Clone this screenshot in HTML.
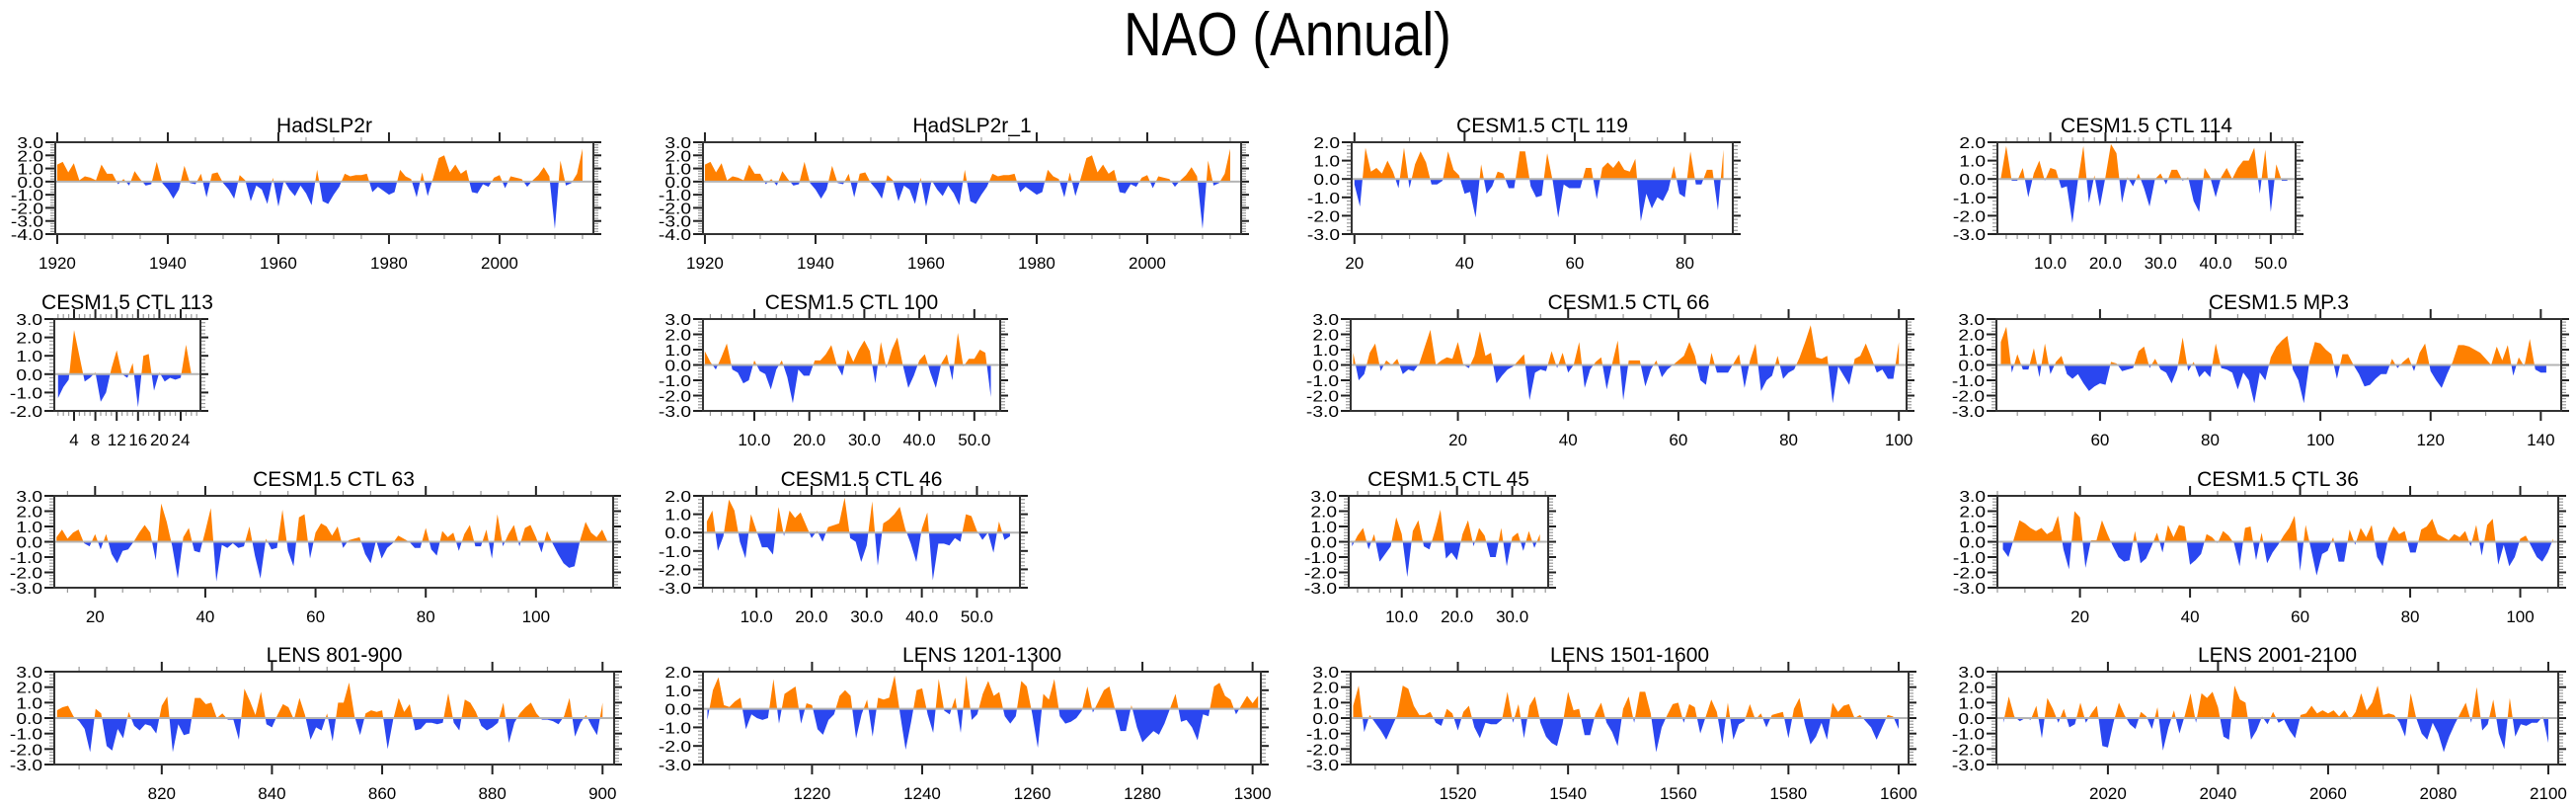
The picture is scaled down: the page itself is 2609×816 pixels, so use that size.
<!DOCTYPE html>
<html>
<head>
<meta charset="utf-8">
<style>
  html,body{margin:0;padding:0;background:#fff;}
  svg{display:block;}
  text{font-family:"Liberation Sans",Arial,sans-serif;fill:#000;}
</style>
</head>
<body>
<svg id="chart" xmlns="http://www.w3.org/2000/svg" width="2609" height="816" viewBox="0 0 2609 816">
  <rect x="0" y="0" width="2609" height="816" fill="#fff"/>
  <text transform="translate(1304,56) scale(0.86,1)" text-anchor="middle" font-size="62">NAO (Annual)</text>
</svg>
<script>
// ---------- data ----------
const hadslp2rStart = 1920;
const hadslp2rValues = [1.3,1.5,0.7,1.4,0.1,0.4,0.3,0.1,1.3,0.6,0.6,-0.2,0.2,-0.3,0.8,0.2,-0.3,-0.2,1.5,-0.1,
  -0.6,-1.3,-0.6,1.2,-0.1,-0.2,0.6,-1.2,0.6,0.7,-0.1,-0.6,-1.3,0.5,0.1,-1.5,-0.3,-0.6,-1.7,0.3,
  -1.9,0.1,-0.6,-1.1,-0.3,-0.9,-1.8,0.9,-1.5,-1.7,-1.0,-0.4,0.6,0.4,0.5,0.5,0.6,-0.8,-0.4,-0.7,
  -1.0,-0.8,0.9,0.4,0.2,-1.2,0.7,-1.1,0.3,1.8,2.0,0.7,1.3,0.6,0.9,-0.8,-0.9,-0.2,-0.4,0.3,
  0.5,-0.5,0.4,0.3,0.2,-0.4,0.1,0.5,1.1,0.4,-3.6,1.6,-0.3,-0.1,0.6,2.5];
const hadslp2r1Start = 1920;
const hadslp2r1Values = hadslp2rValues.slice();
const ctl119Start = 20;
const ctl119Values = [-0.3,-1.5,1.7,0.4,0.6,0.3,1.0,0.4,-0.5,1.7,-0.5,0.8,1.5,0.9,-0.3,-0.3,-0.1,1.5,0.5,0.2,
  -0.8,-0.7,-2.1,0.8,-0.8,-0.4,0.4,0.3,-0.5,-0.5,1.5,1.5,-0.4,-1.0,-0.9,1.4,-0.1,-2.1,-0.3,-0.5,
  -0.5,-0.5,0.6,0.6,-1.1,0.6,0.9,0.6,1.0,0.5,0.4,1.1,-2.3,-0.8,-1.6,-1.0,-1.2,-0.6,0.7,-0.8,
  -1.0,1.5,-0.3,-0.3,0.5,0.5,-1.7,1.6];
const ctl114Start = 1;
const ctl114Values = [0.0,1.8,-0.1,-0.1,0.6,-1.0,0.3,1.0,-0.1,0.6,0.5,-0.5,-0.4,-2.4,-0.1,1.8,-1.3,0.2,-1.5,0.1,
  1.9,1.4,-1.3,0.1,-0.4,0.3,-0.5,-1.5,0.0,0.3,-0.3,0.5,0.5,-0.1,0.1,-1.2,-1.8,0.6,0.1,-1.0,
  0.1,0.6,0.0,0.6,1.0,1.0,1.7,-0.8,1.6,-1.8,0.8,-0.1,-0.1];
const ctl113Start = 1;
const ctl113Values = [-1.3,-0.7,-0.3,2.4,1.0,-0.4,-0.2,0.1,-1.5,-1.0,0.3,1.3,0.0,-0.2,0.6,-1.8,1.0,1.1,-0.9,0.1,
  -0.4,-0.2,-0.3,-0.2,1.6,0.0];
const ctl100Start = 1;
const ctl100Values = [0.9,0.2,-0.3,0.5,1.4,-0.3,-0.5,-1.2,-1.0,0.3,-0.4,-0.6,-1.6,-0.3,0.3,-0.8,-2.5,-0.3,-0.7,-0.7,
  0.3,0.3,0.7,1.3,0.0,-0.7,1.0,0.2,1.0,1.6,0.9,-1.2,1.5,-0.2,1.0,1.8,0.0,-1.5,-0.7,0.3,
  0.7,-0.5,-1.5,0.1,0.7,-1.0,2.1,-0.1,0.4,0.4,1.0,0.8,-2.1];
const ctl66Start = 1;
const ctl66Values = [0.8,-1.0,-0.6,0.8,1.4,-0.4,0.3,0.0,0.4,-0.6,-0.3,-0.4,0.1,1.2,2.3,0.0,0.3,0.5,0.4,1.5,
  0.0,-0.2,0.6,2.2,0.6,0.8,-1.2,-0.7,-0.3,-0.1,0.3,0.7,-2.3,-0.5,-0.3,-0.4,0.9,-0.2,0.8,-0.5,
  0.0,1.5,-1.5,-0.3,0.2,0.5,-1.6,0.1,1.6,-2.3,0.3,0.3,0.3,-1.4,-0.3,0.3,-0.8,-0.3,0.0,0.3,
  0.6,1.5,0.6,-1.0,-1.3,0.8,-0.5,-0.5,-0.5,0.1,0.7,-1.5,0.3,1.4,-1.7,-1.0,-0.7,0.6,-0.9,-0.5,
  -0.3,0.5,1.5,2.6,0.5,0.4,0.6,-2.5,-0.1,-0.7,-1.3,0.4,0.6,1.4,0.5,-0.5,-0.3,-0.9,-0.9,1.5];
const mp3Start = 42;
const mp3Values = [1.5,2.5,-0.5,0.7,-0.3,-0.3,1.1,-0.8,1.4,-0.6,0.2,0.6,-0.6,-0.9,-0.6,-1.2,-1.7,-1.4,-1.2,-1.3,
  0.2,0.1,-0.4,-0.3,-0.2,0.9,1.2,-0.2,0.4,-0.3,-0.5,-1.2,-0.3,1.8,-0.4,0.2,-0.8,-0.4,-0.8,1.4,
  -0.2,-0.3,-0.5,-1.6,-0.5,-1.0,-2.5,-0.5,-1.0,0.5,1.2,1.6,1.9,-0.3,-1.0,-2.5,0.2,1.5,1.4,1.0,
  0.7,-0.9,0.7,0.7,0.0,-0.6,-1.4,-1.3,-0.9,-0.6,-0.6,0.4,-0.2,0.2,0.5,-0.4,0.8,1.4,-0.4,-1.0,
  -1.5,-0.6,0.2,1.3,1.3,1.2,1.0,0.8,0.4,0.0,1.2,0.3,1.3,-0.7,0.5,-0.1,1.7,-0.3,-0.5,-0.5];
const ctl63Start = 13;
const ctl63Values = [0.3,0.8,0.2,0.6,0.8,-0.1,-0.3,0.5,-0.5,0.5,-0.8,-1.4,-0.6,-0.5,0.0,0.6,1.1,0.6,-1.2,2.5,
  1.3,-0.3,-2.4,0.3,0.9,-0.6,-0.7,0.7,2.2,-2.6,-0.2,-0.4,-0.1,-0.4,-0.3,1.0,-0.9,-2.4,0.2,-0.5,
  -0.4,2.1,-0.6,-1.6,1.6,1.8,-1.1,0.6,1.2,1.0,0.4,1.0,-0.4,0.1,0.2,0.3,-0.8,-1.4,0.1,-1.1,
  -0.4,-0.1,0.4,0.2,0.0,-0.4,-0.4,0.9,-0.5,-0.9,0.7,0.3,0.6,-0.6,0.5,1.1,-0.3,-0.3,0.8,-1.1,
  1.8,-0.3,0.5,1.1,-0.3,0.9,1.1,0.3,-0.7,0.7,-0.1,-0.8,-1.4,-1.7,-1.6,0.1,1.3,0.6,0.3,0.8,0.0];
const ctl46Start = 1;
const ctl46Values = [0.6,1.2,-1.0,-0.2,1.8,1.2,-0.5,-1.4,1.0,0.1,-0.8,-0.8,-1.2,1.4,-0.2,1.2,0.8,1.1,0.4,-0.3,
  0.1,-0.5,0.3,0.4,0.5,1.9,-0.3,-0.5,-1.6,-0.7,1.7,-1.8,0.5,0.7,1.0,1.4,0.2,-0.6,-1.6,0.2,
  1.1,-2.6,-0.6,-0.6,-0.7,-0.3,-0.5,1.0,0.9,0.1,-0.4,0.0,-1.1,0.6,-0.4,-0.2];
const ctl45Start = 1;
const ctl45Values = [-0.3,0.4,0.9,-0.5,0.5,-1.3,-0.8,-0.3,1.6,0.5,-2.3,0.7,1.4,-0.3,-0.5,0.7,2.1,-1.1,-0.7,-1.2,
  0.5,1.4,-0.3,0.9,0.4,-1.0,-1.0,0.9,-1.6,0.3,0.6,-0.6,0.7,-0.4,0.5];
const ctl36Start = 6;
const ctl36Values = [-0.5,-1.0,0.2,1.4,1.2,0.9,0.7,0.9,0.5,0.7,1.7,-0.5,-1.8,2.0,1.6,-1.7,0.1,0.1,1.4,0.5,
  -0.3,-1.0,-1.3,-1.2,0.7,-1.4,-1.1,-0.3,0.6,-0.7,1.1,0.3,1.1,1.0,-1.5,-1.2,-0.8,0.5,0.3,-0.1,
  0.7,0.4,-0.1,-1.6,0.9,1.0,-1.2,0.6,-1.4,-0.7,-0.2,0.4,0.9,1.7,-1.9,1.1,-0.5,-2.2,-0.8,-0.6,
  0.3,-1.3,-1.3,0.8,-0.2,0.9,0.3,1.1,-1.0,-1.6,0.2,1.0,0.5,0.7,-0.7,-0.7,0.8,1.0,1.5,0.5,
  0.3,0.1,0.5,0.3,0.7,-0.3,1.1,-0.9,1.1,1.5,-1.5,-0.2,-1.6,-1.0,0.2,0.4,-0.3,-1.0,-1.3,-0.7,0.2];
const lens801Start = 801;
const lens801Values = [0.5,0.7,0.8,0.1,-0.2,-0.7,-2.2,0.6,0.3,-1.8,-2.1,-0.7,-1.3,0.4,-0.5,-0.8,-0.4,-0.5,-1.0,0.8,
  1.4,-2.2,-0.4,-1.1,-1.0,1.3,1.3,0.9,1.0,0.0,0.3,-0.1,-0.1,-1.4,1.9,1.1,0.2,1.7,-0.4,-0.6,
  0.2,0.9,0.7,-0.1,1.3,0.2,-1.4,-0.6,-0.8,0.3,-1.5,1.0,1.0,2.3,0.1,-1.1,0.3,0.5,0.4,0.5,
  -2.0,-0.1,1.3,0.4,0.9,-0.8,-0.7,-0.3,-0.3,-0.4,-0.3,1.6,-0.3,-0.8,1.2,1.0,0.4,-0.5,-0.8,-0.6,
  -0.3,1.0,-1.6,-0.3,0.3,0.7,1.0,0.3,-0.1,-0.1,-0.2,-0.4,0.1,1.3,-1.2,-0.3,0.2,-0.5,-1.1,1.0];
const lens1201Start = 1201;
const lens1201Values = [-0.6,1.0,1.7,0.2,0.1,0.4,0.6,-1.1,-0.3,-0.5,-0.6,-0.5,1.6,-0.8,0.8,1.0,1.2,-0.8,0.3,0.2,
  -1.1,-1.4,-0.6,-0.3,0.7,1.0,0.7,-1.6,-0.3,0.5,-1.5,0.6,0.5,0.6,1.8,-0.3,-2.2,-0.7,1.0,1.1,
  -0.3,-1.3,1.6,-0.1,-0.3,0.6,-1.3,1.8,-0.6,-0.3,0.8,1.5,0.7,0.9,-0.4,-0.8,-0.4,1.5,1.2,-0.3,
  -2.1,0.8,0.5,1.6,-0.4,-0.8,-0.7,-0.5,-0.1,1.2,-0.2,0.4,1.0,1.2,0.0,-1.2,-1.2,0.2,-1.0,-1.8,
  -1.5,-1.2,-1.4,-0.8,0.0,0.8,-0.7,-0.6,-1.0,-1.7,-0.3,-0.4,1.2,1.4,0.7,0.5,-0.3,0.2,0.7,0.3,0.7];
const lens1501Start = 1501;
const lens1501Values = [0.8,2.1,-0.9,0.2,-0.3,-0.8,-1.4,-0.6,0.2,2.1,1.9,0.8,0.2,0.2,0.4,-0.3,-0.5,0.6,0.3,-0.8,
  0.4,0.8,-0.6,-1.3,-0.3,-0.4,-0.4,-0.1,1.7,-0.3,0.9,-1.3,0.8,1.4,-0.3,-1.2,-1.6,-1.8,-0.4,1.7,
  0.5,0.6,-1.1,-1.1,0.3,1.0,-0.3,-0.9,-1.8,0.6,1.4,-0.3,1.7,1.7,0.3,-2.2,-0.6,0.2,0.9,1.0,
  -0.3,0.9,0.7,-1.0,0.1,1.2,0.4,-1.7,1.0,-1.4,-0.4,-0.2,0.9,-0.1,0.3,-0.6,0.2,0.3,0.4,-1.3,
  0.6,1.3,-0.4,-1.7,-1.2,-0.3,-1.4,1.0,0.4,0.8,0.9,0.0,0.2,-0.2,-0.6,-1.4,-0.6,0.2,0.1,-0.7];
const lens2001Start = 2001;
const lens2001Values = [-0.3,1.4,0.1,-0.2,0.0,-0.1,0.8,-1.3,1.3,0.6,-0.3,0.6,-0.6,-0.4,1.0,-0.3,0.3,0.8,-1.8,-1.9,
  -0.3,1.0,0.2,-0.4,-0.7,0.4,0.1,-0.7,0.7,-2.1,-0.6,0.5,-1.0,0.2,1.6,-0.3,1.6,1.3,1.7,0.7,
  -1.2,-1.4,2.1,1.2,1.0,-1.4,-0.8,0.1,-0.4,0.4,-0.3,-0.1,-0.8,-1.3,0.2,0.3,0.8,0.3,0.5,0.3,
  0.5,0.1,0.5,-0.1,0.4,1.6,0.5,1.0,2.1,0.2,0.3,0.2,-0.3,-1.2,1.6,0.0,-1.0,-1.4,-0.3,-1.0,
  -2.2,-1.2,-0.4,0.3,1.0,-0.3,2.0,-0.8,-0.4,1.2,-1.0,-2.0,1.3,-1.2,-0.4,-0.5,-0.3,-0.3,0.1,-1.6];

// tick label arrays
const ticksYear20 = [1920,1940,1960,1980,2000];
const ticksTen = [10,20,30,40,50];
const ticksTwenty = [20,40,60,80,100,120,140];
const ticksFour = [4,8,12,16,20,24];

// ---------- drawing ----------
const NS = "http://www.w3.org/2000/svg";
const svg = document.getElementById('chart');
const ORANGE = "#ff8000", BLUE = "#2a46f0";
let clipId = 0;

function el(tag, attrs, parent){
  const e = document.createElementNS(NS, tag);
  for (const k in attrs) e.setAttribute(k, attrs[k]);
  (parent||svg).appendChild(e);
  return e;
}

function drawPanel(cfg, start, vals){
  const g = el('g', {});
  
  
  const xs = t => cfg.L + (t - cfg.xmin) / (cfg.xmax - cfg.xmin) * (cfg.R - cfg.L);
  const ys = v => cfg.T + (cfg.ymax - v) / (cfg.ymax - cfg.ymin) * (cfg.B - cfg.T);
  const y0 = ys(0);
  const W = cfg.R - cfg.L, H = cfg.B - cfg.T;

  let d = `M${xs(start).toFixed(2)},${y0.toFixed(2)}`;
  vals.forEach((v, i) => { d += ` L${xs(start + i).toFixed(2)},${ys(v).toFixed(2)}`; });
  d += ` L${xs(start + vals.length - 1).toFixed(2)},${y0.toFixed(2)} Z`;

  const defs = el('defs', {}, g);
  const idA = 'ca' + (clipId++), idB = 'cb' + (clipId++);
  const cA = el('clipPath', {id: idA}, defs);
  el('rect', {x: cfg.L, y: cfg.T, width: W, height: y0 - cfg.T}, cA);
  const cB = el('clipPath', {id: idB}, defs);
  el('rect', {x: cfg.L, y: y0, width: W, height: cfg.B - y0}, cB);

  const pos = el('path', {d: d, fill: ORANGE, 'clip-path': `url(#${idA})`}, g);
  
  
  const neg = el('path', {d: d, fill: BLUE, 'clip-path': `url(#${idB})`}, g);
  
  

  const zl = el('line', {x1: cfg.L, x2: cfg.R, y1: y0, y2: y0, stroke: '#b4b4b4', 'stroke-width': 2}, g);
  
  

  const yg = el('g', {}, g);
  
  
  for (let k = Math.round(cfg.ymin * 5); k <= Math.round(cfg.ymax * 5); k++) {
    const v = k / 5, yy = ys(v), major = (k % 5 === 0);
    const len = major ? 10 : 5, col = major ? '#222' : '#999';
    el('line', {x1: cfg.L - len, x2: cfg.L, y1: yy, y2: yy, stroke: col, 'stroke-width': major ? 2 : 1.2}, yg);
    el('line', {x1: cfg.R, x2: cfg.R + (major ? 8 : 5), y1: yy, y2: yy, stroke: col, 'stroke-width': major ? 2 : 1.2}, yg);
    if (major) {
      const t = el('text', {transform: `translate(${cfg.L - 12},${yy + 6}) scale(1.2,1)`, 'text-anchor': 'end', 'font-size': 16}, yg);
      t.textContent = v.toFixed(1);
    }
  }
  const xg = el('g', {}, g);
  
  
  const m0 = Math.ceil(cfg.xmin / cfg.minor), m1 = Math.floor(cfg.xmax / cfg.minor);
  for (let k = m0; k <= m1; k++) {
    const t = k * cfg.minor, xx = xs(t);
    const major = cfg.ticks.indexOf(t) >= 0;
    const len = major ? 10 : 5, col = major ? '#222' : '#999';
    el('line', {x1: xx, x2: xx, y1: cfg.T - len, y2: cfg.T, stroke: col, 'stroke-width': major ? 2 : 1.2}, xg);
    el('line', {x1: xx, x2: xx, y1: cfg.B, y2: cfg.B + len, stroke: col, 'stroke-width': major ? 2 : 1.2}, xg);
  }
  cfg.ticks.forEach(t => {
    if (t < cfg.xmin || t > cfg.xmax) return;
    const lab = el('text', {x: xs(t), y: cfg.B + 35, 'text-anchor': 'middle', 'font-size': 17}, xg);
    lab.textContent = cfg.fmt ? t.toFixed(1) : String(t);
  });

  const fr = el('rect', {x: cfg.L, y: cfg.T, width: W, height: H, fill: 'none', stroke: '#333', 'stroke-width': 2}, g);
  
  

  const tt = el('text', {x: (cfg.L + cfg.R) / 2, y: cfg.T - 10, 'text-anchor': 'middle', 'font-size': 21}, g);
  
  
  tt.textContent = cfg.title;
}

const R1 = [144, 237], R2 = [323, 416], R3 = [502, 595], R4 = [680, 774];

drawPanel({name:'panel-hadslp2r', title:'HadSLP2r', L:56, R:601, T:R1[0], B:R1[1], xmin:1919.65, xmax:2016.97, ymin:-4, ymax:3, ticks:ticksYear20, minor:5}, hadslp2rStart, hadslp2rValues);
drawPanel({name:'panel-hadslp2r-1', title:'HadSLP2r_1', L:712, R:1257, T:R1[0], B:R1[1], xmin:1919.65, xmax:2016.97, ymin:-4, ymax:3, ticks:ticksYear20, minor:5}, hadslp2r1Start, hadslp2r1Values);
drawPanel({name:'panel-ctl119', title:'CESM1.5 CTL 119', L:1369, R:1755, T:R1[0], B:R1[1], xmin:19.5, xmax:88.7, ymin:-3, ymax:2, ticks:ticksTwenty, minor:5}, ctl119Start, ctl119Values);
drawPanel({name:'panel-ctl114', title:'CESM1.5 CTL 114', L:2023, R:2325, T:R1[0], B:R1[1], xmin:0.4, xmax:54.5, ymin:-3, ymax:2, ticks:ticksTen, minor:2, fmt:true}, ctl114Start, ctl114Values);

drawPanel({name:'panel-ctl113', title:'CESM1.5 CTL 113', L:55, R:203, T:R2[0], B:R2[1], xmin:0.3, xmax:27.7, ymin:-2, ymax:3, ticks:ticksFour, minor:1}, ctl113Start, ctl113Values);
drawPanel({name:'panel-ctl100', title:'CESM1.5 CTL 100', L:712, R:1013, T:R2[0], B:R2[1], xmin:0.67, xmax:54.7, ymin:-3, ymax:3, ticks:ticksTen, minor:2, fmt:true}, ctl100Start, ctl100Values);
drawPanel({name:'panel-ctl66', title:'CESM1.5 CTL 66', L:1368, R:1931, T:R2[0], B:R2[1], xmin:0.55, xmax:101.4, ymin:-3, ymax:3, ticks:ticksTwenty, minor:5}, ctl66Start, ctl66Values);
drawPanel({name:'panel-mp3', title:'CESM1.5 MP.3', L:2022, R:2594, T:R2[0], B:R2[1], xmin:41.2, xmax:143.7, ymin:-3, ymax:3, ticks:ticksTwenty, minor:5}, mp3Start, mp3Values);

drawPanel({name:'panel-ctl63', title:'CESM1.5 CTL 63', L:55, R:621, T:R3[0], B:R3[1], xmin:12.6, xmax:114, ymin:-3, ymax:3, ticks:ticksTwenty, minor:5}, ctl63Start, ctl63Values);
drawPanel({name:'panel-ctl46', title:'CESM1.5 CTL 46', L:712, R:1033, T:R3[0], B:R3[1], xmin:0.3, xmax:57.8, ymin:-3, ymax:2, ticks:ticksTen, minor:2, fmt:true}, ctl46Start, ctl46Values);
drawPanel({name:'panel-ctl45', title:'CESM1.5 CTL 45', L:1366, R:1568, T:R3[0], B:R3[1], xmin:0.4, xmax:36.5, ymin:-3, ymax:3, ticks:ticksTen, minor:2, fmt:true}, ctl45Start, ctl45Values);
drawPanel({name:'panel-ctl36', title:'CESM1.5 CTL 36', L:2023, R:2591, T:R3[0], B:R3[1], xmin:5.0, xmax:106.9, ymin:-3, ymax:3, ticks:ticksTwenty, minor:5}, ctl36Start, ctl36Values);

drawPanel({name:'panel-lens-801-900', title:'LENS 801-900', L:55, R:622, T:R4[0], B:R4[1], xmin:800.5, xmax:902.1, ymin:-3, ymax:3, ticks:[820,840,860,880,900], minor:5}, lens801Start, lens801Values);
drawPanel({name:'panel-lens-1201-1300', title:'LENS 1201-1300', L:712, R:1277, T:R4[0], B:R4[1], xmin:1200.2, xmax:1301.5, ymin:-3, ymax:2, ticks:[1220,1240,1260,1280,1300], minor:5}, lens1201Start, lens1201Values);
drawPanel({name:'panel-lens-1501-1600', title:'LENS 1501-1600', L:1368, R:1933, T:R4[0], B:R4[1], xmin:1500.55, xmax:1601.8, ymin:-3, ymax:3, ticks:[1520,1540,1560,1580,1600], minor:5}, lens1501Start, lens1501Values);
drawPanel({name:'panel-lens-2001-2100', title:'LENS 2001-2100', L:2022, R:2591, T:R4[0], B:R4[1], xmin:1999.75, xmax:2101.8, ymin:-3, ymax:3, ticks:[2020,2040,2060,2080,2100], minor:5}, lens2001Start, lens2001Values);
</script>
</body>
</html>
